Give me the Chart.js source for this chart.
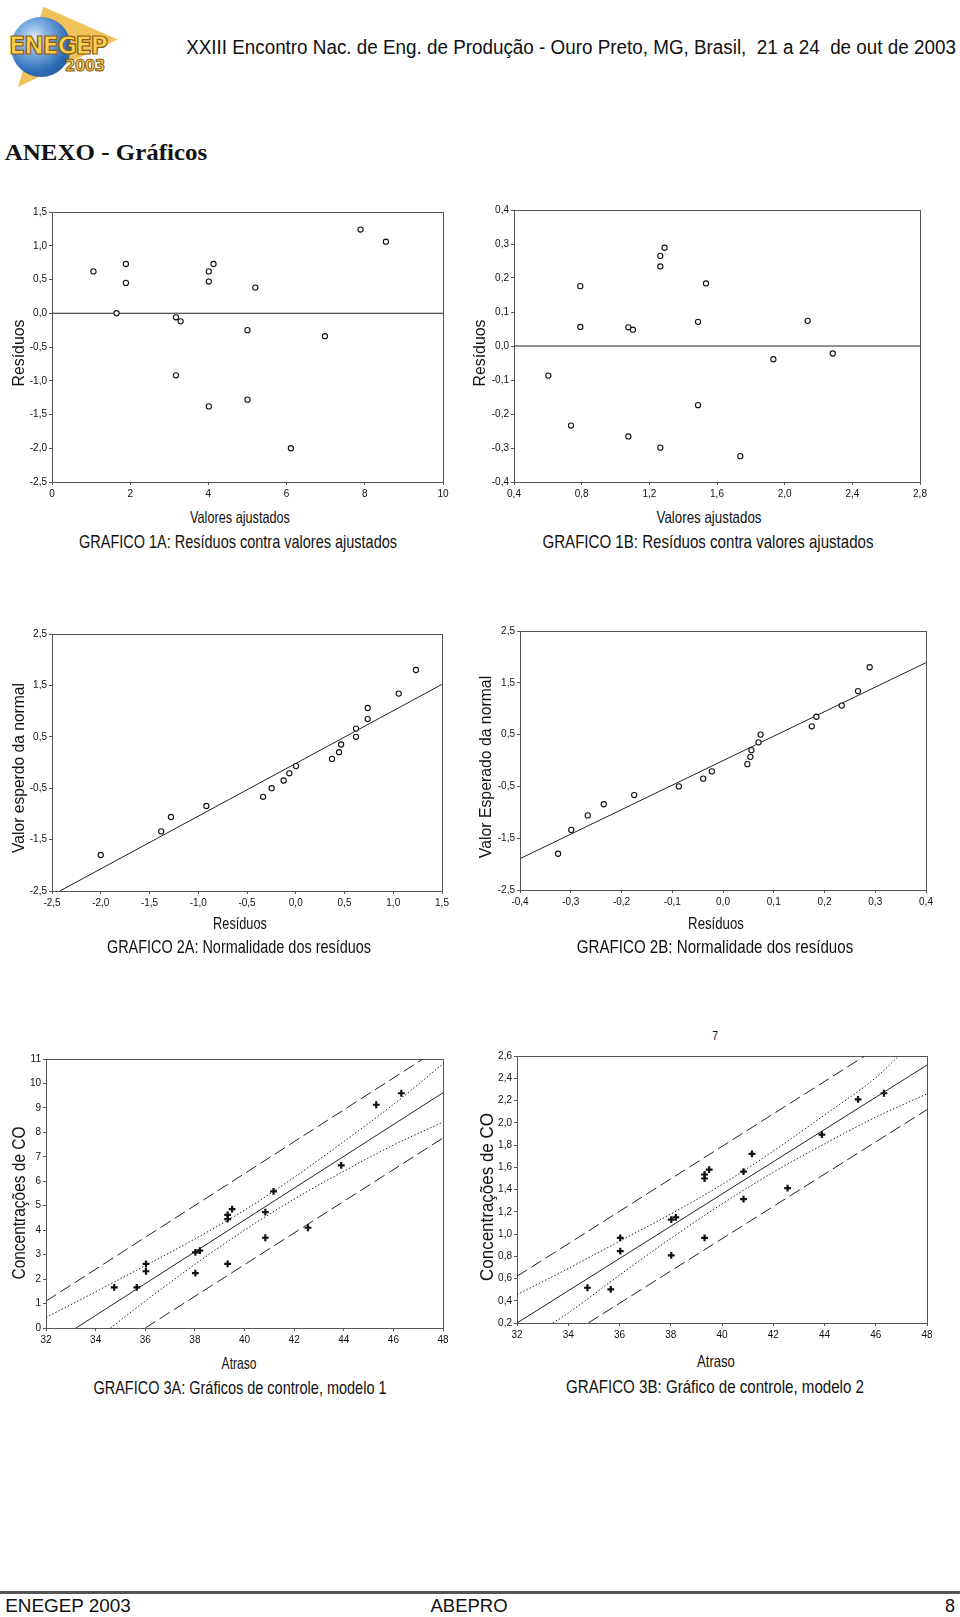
<!DOCTYPE html>
<html lang="pt">
<head>
<meta charset="utf-8">
<title>ENEGEP 2003 - ANEXO Gráficos</title>
<script src="https://cdn.jsdelivr.net/npm/chart.js@4.4.1/dist/chart.umd.min.js"></script>
<style>
  body { margin: 0; width: 960px; height: 1617px; position: relative; background: #fff; color: #111;
         font-family: 'Liberation Sans', Arial, sans-serif; overflow: hidden; }
  .t { position: absolute; white-space: nowrap; transform: translate(-50%, -50%); }
  .ytitle { font-size: 17px; }
  .xtitle { font-size: 16.5px; }
  .caption { font-size: 18.5px; }
  canvas { position: absolute; }
  #logo { position: absolute; left: 5px; top: 5px; width: 128px; height: 82px; }
  #logo .arrow { position: absolute; left: 0; top: 0; width: 128px; height: 82px; background: #f2c25a;
                 clip-path: polygon(30% 2%, 88% 42%, 10% 100%); }
  #logo .globe { position: absolute; left: 6px; top: 12px; width: 60px; height: 60px; border-radius: 50%;
                 background: radial-gradient(circle at 38% 35%, #dfeefb 0%, #7eaee2 28%, #2f6db8 62%, #1c4b8c 100%); }
  #logo .word { position: absolute; left: 4px; top: 27px; font: bold 24px 'DejaVu Sans', sans-serif; color: #f7cf55;
                -webkit-text-stroke: 1.2px #8a5a10; letter-spacing: -1.5px; }
  #logo .year { position: absolute; left: 60px; top: 52px; font: bold 15px 'DejaVu Sans', sans-serif; color: #f7cf55;
                -webkit-text-stroke: 1px #8a5a10; letter-spacing: -0.5px; }
  #rule { position: absolute; left: 0; top: 1591px; width: 960px; height: 3px; background: #555; }
</style>
</head>
<body>

<div id="logo"><div class="arrow"></div><div class="globe"></div><div class="word">ENEGEP</div><div class="year">2003</div></div>
<div class="t" data-w="770" style="left:571px; top:47px; font-size:20px;">XXIII Encontro Nac. de Eng. de Produção - Ouro Preto, MG, Brasil,&nbsp; 21 a 24&nbsp; de out de 2003</div>
<div class="t" data-w="203" style="left:106px; top:153px; font:bold 23px 'Liberation Serif', 'Times New Roman', serif;">ANEXO - Gráficos</div>

<canvas id="g1a"></canvas>
<canvas id="g1b"></canvas>
<canvas id="g2a"></canvas>
<canvas id="g2b"></canvas>
<canvas id="g3a"></canvas>
<canvas id="g3b"></canvas>

<!-- GRAFICO 1A -->
<div class="t ytitle" data-w="67" data-rot="1" style="left:19px; top:353px;">Resíduos</div>
<div class="t xtitle" data-w="100" style="left:240px; top:517px;">Valores ajustados</div>
<div class="t caption" data-w="318" style="left:238px; top:542px;">GRAFICO 1A: Resíduos contra valores ajustados</div>
<!-- GRAFICO 1B -->
<div class="t ytitle" data-w="67" data-rot="1" style="left:480px; top:353px;">Resíduos</div>
<div class="t xtitle" data-w="105" style="left:709px; top:517px;">Valores ajustados</div>
<div class="t caption" data-w="331" style="left:708px; top:542px;">GRAFICO 1B: Resíduos contra valores ajustados</div>
<!-- GRAFICO 2A -->
<div class="t ytitle" data-w="170" data-rot="1" style="left:19px; top:768px;">Valor esperdo da normal</div>
<div class="t xtitle" data-w="54" style="left:240px; top:923px;">Resíduos</div>
<div class="t caption" data-w="264" style="left:239px; top:947px;">GRAFICO 2A: Normalidade dos resíduos</div>
<!-- GRAFICO 2B -->
<div class="t ytitle" data-w="182" data-rot="1" style="left:486px; top:767px;">Valor Esperado da normal</div>
<div class="t xtitle" data-w="56" style="left:716px; top:923px;">Resíduos</div>
<div class="t caption" data-w="276" style="left:715px; top:947px;">GRAFICO 2B: Normalidade dos resíduos</div>
<!-- GRAFICO 3A -->
<div class="t ytitle" data-w="153" data-rot="1" style="left:19px; top:1203px; font-size:17.5px;">Concentrações de CO</div>
<div class="t xtitle" data-w="35" style="left:239px; top:1363px;">Atraso</div>
<div class="t caption" data-w="293" style="left:240px; top:1388px;">GRAFICO 3A: Gráficos de controle, modelo 1</div>
<!-- GRAFICO 3B -->
<div class="t" data-w="6" style="left:715px; top:1036px; font-size:12px;">7</div>
<div class="t ytitle" data-w="168" data-rot="1" style="left:487px; top:1197px; font-size:18.5px;">Concentrações de CO</div>
<div class="t xtitle" data-w="38" style="left:716px; top:1361px;">Atraso</div>
<div class="t caption" data-w="298" style="left:715px; top:1387px;">GRAFICO 3B: Gráfico de controle, modelo 2</div>

<div id="rule"></div>
<div class="t" data-w="126" style="left:68px; top:1606px; font-size:18px;">ENEGEP 2003</div>
<div class="t" data-w="77" style="left:469px; top:1606px; font-size:18px;">ABEPRO</div>
<div class="t" data-w="10" style="left:950px; top:1606px; font-size:18px;">8</div>

<script>
// GRAFICO 1A: resíduos contra valores ajustados (modelo 1)
const ajustados1 = [1.06, 1.65, 1.89, 1.89, 3.17, 3.29, 3.17, 4.01, 4.13, 4.01, 4.01, 5.0, 5.0, 5.2, 6.11, 6.98, 7.89, 8.54];
const residuos1 = [0.62, 0.0, 0.73, 0.45, -0.06, -0.12, -0.92, 0.62, 0.73, 0.47, -1.38, -0.25, -1.28, 0.38, -2.0, -0.34, 1.24, 1.06];

// GRAFICO 1B: resíduos contra valores ajustados (modelo 2)
const ajustados2 = [0.603, 0.737, 0.792, 0.792, 1.076, 1.103, 1.076, 1.265, 1.29, 1.265, 1.265, 1.488, 1.488, 1.535, 1.738, 1.933, 2.136, 2.284];
const residuos2 = [-0.087, -0.234, 0.176, 0.056, 0.055, 0.048, -0.266, 0.265, 0.289, 0.234, -0.299, 0.071, -0.174, 0.184, -0.324, -0.039, 0.074, -0.022];

// GRAFICO 2A / 2B: normalidade dos resíduos
const valorEsperado = [-1.80, -1.34, -1.06, -0.845, -0.667, -0.50, -0.35, -0.21, -0.07, 0.07, 0.20, 0.35, 0.50, 0.66, 0.845, 1.06, 1.34, 1.80];
const residuosOrd1 = [-2.0, -1.38, -1.28, -0.917, -0.335, -0.247, -0.124, -0.066, 0.003, 0.372, 0.444, 0.465, 0.618, 0.618, 0.738, 0.738, 1.056, 1.233];
const residuosOrd2 = [-0.325, -0.299, -0.2665, -0.235, -0.175, -0.087, -0.039, -0.022, 0.048, 0.054, 0.056, 0.070, 0.074, 0.175, 0.184, 0.234, 0.266, 0.289];
const retaNormal1X = [-2.42, 1.5];
const retaNormal1Y = [-2.5, 1.52];
const retaNormal2X = [-0.4, 0.4];
const retaNormal2Y = [-1.895, 1.889];

// GRAFICO 3A / 3B: concentrações de CO contra atraso
const atraso = [34.75, 35.66, 36.03, 36.03, 38.02, 38.2, 38.02, 39.32, 39.32, 39.5, 39.32, 40.84, 40.84, 41.17, 42.56, 43.9, 45.31, 46.32];
const co1 = [1.66, 1.66, 2.62, 2.32, 3.09, 3.16, 2.24, 4.63, 4.45, 4.86, 2.62, 4.74, 3.69, 5.59, 4.1, 6.65, 9.13, 9.6];
const co2 = [0.517, 0.502, 0.966, 0.846, 1.13, 1.15, 0.807, 1.535, 1.499, 1.579, 0.966, 1.561, 1.313, 1.72, 1.412, 1.894, 2.211, 2.265];

// modelo 1: reta, limites de confiança (pontilhado) e de predição (tracejado)
const regressao1X = [33.21, 48];
const regressao1Y = [0, 9.62];
const confSup1X = [32, 34, 36, 38, 40, 42, 44, 46, 48];
const confSup1Y = [0.43, 1.48, 2.55, 3.64, 4.82, 6.16, 7.62, 9.14, 10.8];
const confInf1X = [34.6, 36, 38, 40, 42, 44, 46, 48];
const confInf1Y = [0, 1.1, 2.6, 4.0, 5.27, 6.41, 7.48, 8.42];
const predSup1X = [32, 47.19];
const predSup1Y = [1.1, 11];
const predInf1X = [36.0, 48];
const predInf1Y = [0, 7.77];

// modelo 2
const regressao2X = [32, 48];
const regressao2Y = [0.2, 2.519];
const confSup2X = [32, 34, 36, 38, 40, 42, 44, 46, 46.9];
const confSup2Y = [0.455, 0.69, 0.935, 1.18, 1.445, 1.745, 2.07, 2.405, 2.6];
const confInf2X = [33.4, 34, 36, 38, 40, 42, 44, 46, 48];
const confInf2Y = [0.2, 0.29, 0.63, 0.96, 1.27, 1.555, 1.81, 2.05, 2.26];
const predSup2X = [32, 45.57];
const predSup2Y = [0.62, 2.6];
const predInf2X = [34.78, 48];
const predInf2Y = [0.2, 2.118];

const AXIS = '#555';

// textos em Arial Narrow: Liberation Sans comprimida até a largura medida
document.querySelectorAll('[data-w]').forEach(el => {
    const s = Number(el.dataset.w) / el.offsetWidth;
    const rot = el.dataset.rot ? ' rotate(-90deg)' : '';
    el.style.transform = 'translate(-50%, -50%)' + rot + ' scaleX(' + s.toFixed(3) + ')';
});

function pts(xs, ys) {
    return xs.map((x, i) => ({ x: x, y: ys[i] }));
}

function comma(decimals) {
    return v => Number(v).toFixed(decimals).replace('.', ',');
}

function circles(xs, ys) {
    return { data: pts(xs, ys), showLine: false, pointStyle: 'circle', pointRadius: 2.6,
             pointBorderWidth: 1.1, pointBorderColor: '#111', pointBackgroundColor: '#fff' };
}

function crosses(xs, ys) {
    return { data: pts(xs, ys), showLine: false, pointStyle: 'cross', pointRadius: 3.4,
             pointBorderWidth: 2.2, pointBorderColor: '#111' };
}

function line(xs, ys, dash, smooth) {
    return { data: pts(xs, ys), showLine: true, pointRadius: 0, borderColor: '#222', borderWidth: 1,
             borderDash: dash || [], cubicInterpolationMode: smooth ? 'monotone' : 'default' };
}

// plot area (L,T,R,B) is fixed in page pixels, the canvas starts at col
function drawChart(id, box, xs, ys, datasets) {
    const cv = document.getElementById(id);
    const top = box.T - 12;
    cv.width = box.R + 14 - box.col;
    cv.height = box.B + 24 - top;
    cv.style.left = box.col + 'px';
    cv.style.top = top + 'px';

    const tickFont = { family: "'Liberation Sans', Arial, sans-serif", size: 10 };
    const frame = (pos, size) => ({
        type: 'linear', position: pos, min: (pos === 'top' ? xs : ys).min, max: (pos === 'top' ? xs : ys).max,
        ticks: { display: false }, grid: { display: false }, border: { color: AXIS, width: 1 },
        afterFit: s => { if (pos === 'top') s.height = size; else s.width = size; }
    });

    return new Chart(cv, {
        type: 'scatter',
        data: { datasets: datasets },
        options: {
            responsive: false,
            animation: false,
            events: [],
            layout: { padding: 0 },
            plugins: { legend: { display: false }, tooltip: { enabled: false } },
            scales: {
                x: {
                    type: 'linear', position: 'bottom', min: xs.min, max: xs.max,
                    ticks: { stepSize: xs.step, callback: xs.fmt, font: tickFont, color: '#111',
                             padding: 3, maxRotation: 0, autoSkip: false },
                    grid: { drawOnChartArea: false, tickLength: 3, color: AXIS },
                    border: { color: AXIS, width: 1 },
                    afterFit: s => { s.height = 24; }
                },
                y: {
                    type: 'linear', position: 'left', min: ys.min, max: ys.max,
                    ticks: { stepSize: ys.step, callback: ys.fmt, font: tickFont, color: '#111',
                             padding: 2, autoSkip: false },
                    grid: { drawOnChartArea: false, tickLength: 3, color: AXIS },
                    border: { color: AXIS, width: 1 },
                    afterFit: s => { s.width = box.L - box.col; }
                },
                x2: frame('top', 12),
                y2: frame('right', 14)
            }
        }
    });
}

drawChart('g1a', { col: 0, L: 52, T: 212, R: 443, B: 482 },
    { min: 0, max: 10, step: 2, fmt: comma(0) },
    { min: -2.5, max: 1.5, step: 0.5, fmt: comma(1) },
    [circles(ajustados1, residuos1), line([0, 10], [0, 0])]);

drawChart('g1b', { col: 460, L: 514, T: 210, R: 920, B: 482 },
    { min: 0.4, max: 2.8, step: 0.4, fmt: comma(1) },
    { min: -0.4, max: 0.4, step: 0.1, fmt: comma(1) },
    [circles(ajustados2, residuos2), line([0.4, 2.8], [0, 0])]);

drawChart('g2a', { col: 0, L: 52, T: 634, R: 442, B: 891 },
    { min: -2.5, max: 1.5, step: 0.5, fmt: comma(1) },
    { min: -2.5, max: 2.5, step: 1, fmt: comma(1) },
    [circles(residuosOrd1, valorEsperado), line(retaNormal1X, retaNormal1Y)]);

drawChart('g2b', { col: 460, L: 520, T: 631, R: 926, B: 890 },
    { min: -0.4, max: 0.4, step: 0.1, fmt: comma(1) },
    { min: -2.5, max: 2.5, step: 1, fmt: comma(1) },
    [circles(residuosOrd2, valorEsperado), line(retaNormal2X, retaNormal2Y)]);

drawChart('g3a', { col: 0, L: 46, T: 1059, R: 443, B: 1328 },
    { min: 32, max: 48, step: 2, fmt: comma(0) },
    { min: 0, max: 11, step: 1, fmt: comma(0) },
    [crosses(atraso, co1),
     line(regressao1X, regressao1Y),
     line(confSup1X, confSup1Y, [1.5, 2], true),
     line(confInf1X, confInf1Y, [1.5, 2], true),
     line(predSup1X, predSup1Y, [12, 5]),
     line(predInf1X, predInf1Y, [12, 5])]);

drawChart('g3b', { col: 460, L: 517, T: 1056, R: 927, B: 1323 },
    { min: 32, max: 48, step: 2, fmt: comma(0) },
    { min: 0.2, max: 2.6, step: 0.2, fmt: comma(1) },
    [crosses(atraso, co2),
     line(regressao2X, regressao2Y),
     line(confSup2X, confSup2Y, [1.5, 2], true),
     line(confInf2X, confInf2Y, [1.5, 2], true),
     line(predSup2X, predSup2Y, [12, 5]),
     line(predInf2X, predInf2Y, [12, 5])]);
</script>
</body>
</html>
